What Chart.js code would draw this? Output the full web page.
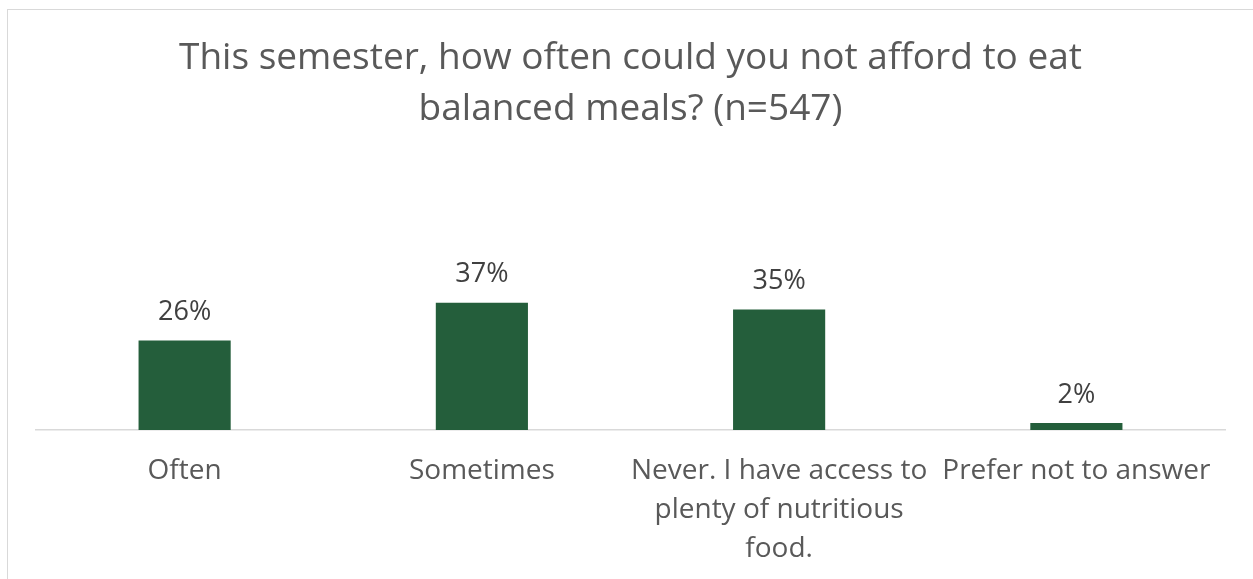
<!DOCTYPE html>
<html>
<head>
<meta charset="utf-8">
<script src="https://cdn.jsdelivr.net/npm/chart.js@4"></script>
<style>
    html, body { margin: 0; padding: 0; background: #fff; overflow: hidden; }
    #frame {
        position: absolute; left: 7px; top: 9px;
        width: 1300px; height: 700px;
        border: 1px solid #d9d9d9;
    }
    #wrap { position: absolute; left: 0; top: 0; width: 1253px; height: 579px; }
</style>
</head>
<body>
<div id="frame"></div>
<div id="wrap"><canvas id="chart"></canvas></div>
<script>
// Данные графика
const titleLines = ['This semester, how often could you not afford to eat', 'balanced meals? (n=547)'];
const categories = [
    'Often',
    'Sometimes',
    ['Never. I have access to', 'plenty of nutritious', 'food.'],
    'Prefer not to answer'
];
const percents = [26, 37, 35, 2];

const FONT = '"Open Sans", sans-serif';

// ===== ПОДПИСИ НАД СТОЛБЦАМИ =====
const barLabels = {
    id: 'barLabels',
    afterDatasetsDraw(chart) {
        const ctx = chart.ctx;
        const meta = chart.getDatasetMeta(0);
        ctx.save();
        ctx.font = '27px ' + FONT;
        ctx.fillStyle = '#404040';
        ctx.textAlign = 'center';
        ctx.textBaseline = 'middle';
        meta.data.forEach((bar, i) => {
            ctx.fillText(percents[i] + '%', bar.x, bar.y - 28);
        });
        ctx.restore();
    }
};

new Chart(document.getElementById('chart'), {
    type: 'bar',
    data: {
        labels: categories,
        datasets: [{
            data: percents,
            backgroundColor: '#245E3B',
            borderWidth: 0,
            barPercentage: 0.31,
            categoryPercentage: 1
        }]
    },
    plugins: [barLabels],
    options: {
        responsive: true,
        maintainAspectRatio: false,
        animation: false,
        layout: { padding: { left: 36, right: 28, top: 0, bottom: 0 } },
        plugins: {
            legend: { display: false },
            tooltip: { enabled: false },
            title: {
                display: true,
                text: titleLines,
                color: '#595959',
                font: { family: FONT, size: 37, weight: 'normal', lineHeight: 1.37 },
                padding: { top: 33, bottom: 158 }
            }
        },
        scales: {
            x: {
                grid: { display: false, drawTicks: false },
                border: { display: true, color: '#d9d9d9', width: 1.5 },
                ticks: {
                    color: '#595959',
                    font: { family: FONT, size: 28, lineHeight: 1.39 },
                    padding: 22,
                    maxRotation: 0,
                    autoSkip: false
                },
                afterFit(scale) { scale.height = 149; }
            },
            y: {
                display: false,
                min: 0,
                max: 40
            }
        }
    }
});
</script>
</body>
</html>
